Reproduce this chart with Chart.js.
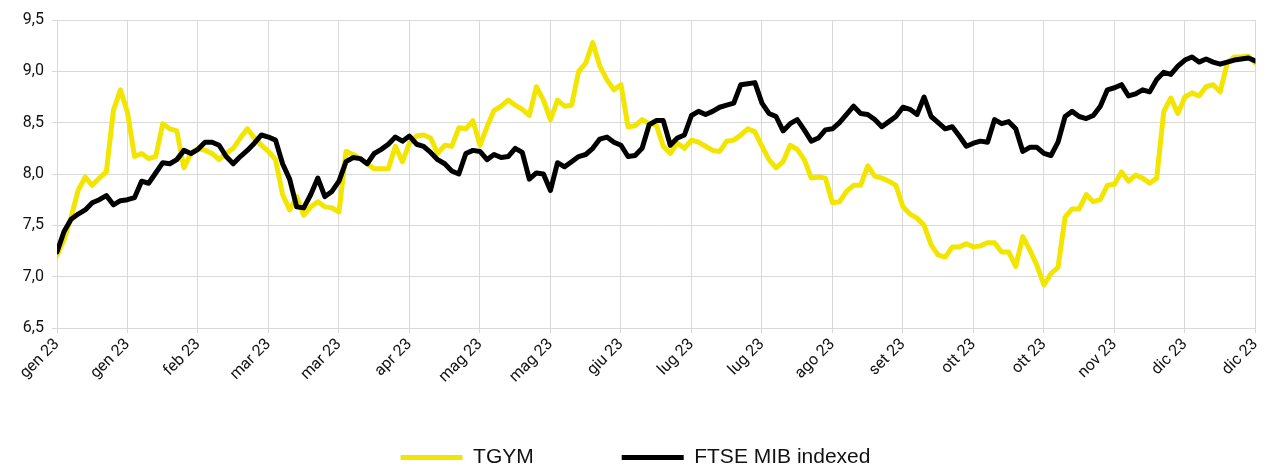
<!DOCTYPE html>
<html>
<head>
<meta charset="utf-8">
<script src="https://cdn.jsdelivr.net/npm/chart.js@4"></script>
<style>
  html, body { margin: 0; padding: 0; background: #fff; }
  #wrap { width: 1271px; height: 466px; }
</style>
</head>
<body>
<div id="wrap"><canvas id="chart" width="1271" height="466"></canvas></div>
<script>
// etichette dell'asse x (una ogni 10 punti)
const xTickLabels = ["gen 23", "gen 23", "feb 23", "mar 23", "mar 23", "apr 23", "mag 23", "mag 23", "giu 23",
  "lug 23", "lug 23", "ago 23", "set 23", "ott 23", "ott 23", "nov 23", "dic 23", "dic 23"];
const pointsPerTick = 10;

const seriesNames = ["TGYM", "FTSE MIB indexed"];

const tgym = [
  7.21, 7.36, 7.58, 7.84, 7.97, 7.89, 7.96, 8.02, 8.62, 8.82,
  8.60, 8.17, 8.20, 8.15, 8.17, 8.49, 8.44, 8.42, 8.06, 8.20,
  8.25, 8.23, 8.20, 8.14, 8.20, 8.25, 8.35, 8.44, 8.35, 8.28,
  8.22, 8.14, 7.80, 7.65, 7.78, 7.60, 7.68, 7.73, 7.68, 7.67,
  7.63, 8.22, 8.19, 8.15, 8.10, 8.05, 8.05, 8.05, 8.27, 8.12,
  8.30, 8.37, 8.38, 8.35, 8.20, 8.28, 8.27, 8.45, 8.44, 8.52,
  8.28, 8.46, 8.62, 8.66, 8.72, 8.67, 8.63, 8.57, 8.85, 8.72,
  8.53, 8.72, 8.66, 8.67, 9.00, 9.08, 9.28, 9.05, 8.92, 8.82,
  8.87, 8.46, 8.47, 8.53, 8.49, 8.48, 8.27, 8.20, 8.30, 8.25,
  8.33, 8.31, 8.27, 8.23, 8.22, 8.32, 8.33, 8.38, 8.44, 8.41,
  8.27, 8.14, 8.06, 8.12, 8.28, 8.24, 8.14, 7.96, 7.97, 7.96,
  7.72, 7.73, 7.83, 7.89, 7.89, 8.08, 7.98, 7.96, 7.93, 7.89,
  7.68, 7.61, 7.57, 7.50, 7.31, 7.21, 7.19, 7.29, 7.29, 7.32,
  7.29, 7.30, 7.33, 7.33, 7.24, 7.24, 7.10, 7.39, 7.26, 7.11,
  6.92, 7.03, 7.09, 7.58, 7.66, 7.66, 7.80, 7.73, 7.75, 7.89,
  7.90, 8.02, 7.93, 7.99, 7.96, 7.91, 7.96, 8.61, 8.74, 8.59,
  8.75, 8.79, 8.76, 8.85, 8.87, 8.80, 9.08, 9.14, 9.14, 9.15,
  9.08
];

const ftseMib = [
  7.24, 7.44, 7.56, 7.61, 7.65, 7.72, 7.75, 7.79, 7.70, 7.74,
  7.75, 7.77, 7.93, 7.91, 8.01, 8.11, 8.10, 8.14, 8.23, 8.20,
  8.24, 8.31, 8.31, 8.28, 8.17, 8.10, 8.17, 8.23, 8.30, 8.38,
  8.36, 8.33, 8.10, 7.95, 7.68, 7.67, 7.80, 7.96, 7.78, 7.83,
  7.93, 8.12, 8.16, 8.15, 8.10, 8.20, 8.24, 8.29, 8.36, 8.32,
  8.37, 8.29, 8.27, 8.21, 8.14, 8.10, 8.03, 8.00, 8.20, 8.23,
  8.22, 8.14, 8.19, 8.16, 8.17, 8.25, 8.21, 7.95, 8.01, 8.00,
  7.84, 8.11, 8.07, 8.12, 8.17, 8.19, 8.25, 8.34, 8.36, 8.31,
  8.28, 8.17, 8.18, 8.25, 8.48, 8.52, 8.52, 8.28, 8.35, 8.38,
  8.57, 8.61, 8.58, 8.61, 8.65, 8.67, 8.69, 8.87, 8.88, 8.89,
  8.69, 8.59, 8.56, 8.42, 8.49, 8.53, 8.43, 8.32, 8.35, 8.43,
  8.44, 8.50, 8.58, 8.66, 8.59, 8.58, 8.53, 8.46, 8.51, 8.56,
  8.65, 8.63, 8.58, 8.75, 8.56, 8.50, 8.44, 8.46, 8.37, 8.27,
  8.30, 8.32, 8.31, 8.53, 8.49, 8.51, 8.44, 8.22, 8.26, 8.26,
  8.20, 8.18, 8.31, 8.56, 8.61, 8.56, 8.54, 8.57, 8.66, 8.82,
  8.84, 8.87, 8.76, 8.78, 8.82, 8.80, 8.92, 8.99, 8.97, 9.05,
  9.11, 9.14, 9.09, 9.12, 9.09, 9.07, 9.09, 9.11, 9.12, 9.13,
  9.10
];

const yellow = "#F2E600";
const gridColor = "#D9D9D9";
const tickFont = { family: "Roboto, 'Liberation Sans', sans-serif", size: 16 };
const legendGap = 88;

function toPoints(values) {
  return values.map((v, i) => ({ x: i, y: v }));
}

// sposta la legenda in basso senza farle occupare spazio
const legendPlacement = {
  id: "legendPlacement",
  afterLayout(chart) {
    chart.legend.top = 447 - legendGap;
  },
};

const ctx = document.getElementById("chart").getContext("2d");
new Chart(ctx, {
  type: "line",
  data: {
    datasets: [
      {
        label: seriesNames[0],
        data: toPoints(tgym),
        borderColor: yellow,
        backgroundColor: yellow,
        borderWidth: 5,
        borderJoinStyle: "round",
        borderCapStyle: "round",
        pointRadius: 0,
        tension: 0,
        order: 2,
      },
      {
        label: seriesNames[1],
        data: toPoints(ftseMib),
        borderColor: "#000000",
        backgroundColor: "#000000",
        borderWidth: 5,
        borderJoinStyle: "round",
        borderCapStyle: "round",
        pointRadius: 0,
        tension: 0,
        order: 1,
      },
    ],
  },
  options: {
    responsive: false,
    animation: false,
    layout: { padding: { top: 20, left: 0, right: 0, bottom: 0 } },
    scales: {
      x: {
        type: "linear",
        min: 0,
        max: (xTickLabels.length - 1) * pointsPerTick,
        grid: { color: gridColor, tickLength: 5 },
        border: { color: gridColor },
        ticks: {
          stepSize: pointsPerTick,
          autoSkip: false,
          minRotation: 45,
          maxRotation: 45,
          padding: 2,
          color: "#111111",
          font: tickFont,
          callback: (value) => xTickLabels[Math.round(value / pointsPerTick)],
        },
        afterFit: (scale) => {
          scale.height = 98;
        },
      },
      y: {
        min: 6.5,
        max: 9.5,
        grid: { color: gridColor, tickLength: 5 },
        border: { color: gridColor },
        ticks: {
          stepSize: 0.5,
          padding: 8,
          color: "#111111",
          font: tickFont,
          callback: (value) => value.toFixed(1).replace(".", ","),
        },
        afterFit: (scale) => {
          scale.width = 57;
        },
      },
    },
    plugins: {
      tooltip: { enabled: false },
      legend: {
        position: "bottom",
        maxHeight: 40,
        labels: {
          usePointStyle: true,
          pointStyle: "line",
          pointStyleWidth: 62,
          boxHeight: 5,
          padding: legendGap,
          color: "#111111",
          font: { family: "'Liberation Sans', Arial, sans-serif", size: 21 },
          sort: (a, b) => a.datasetIndex - b.datasetIndex,
        },
      },
    },
  },
  plugins: [legendPlacement],
});
</script>
</body>
</html>
